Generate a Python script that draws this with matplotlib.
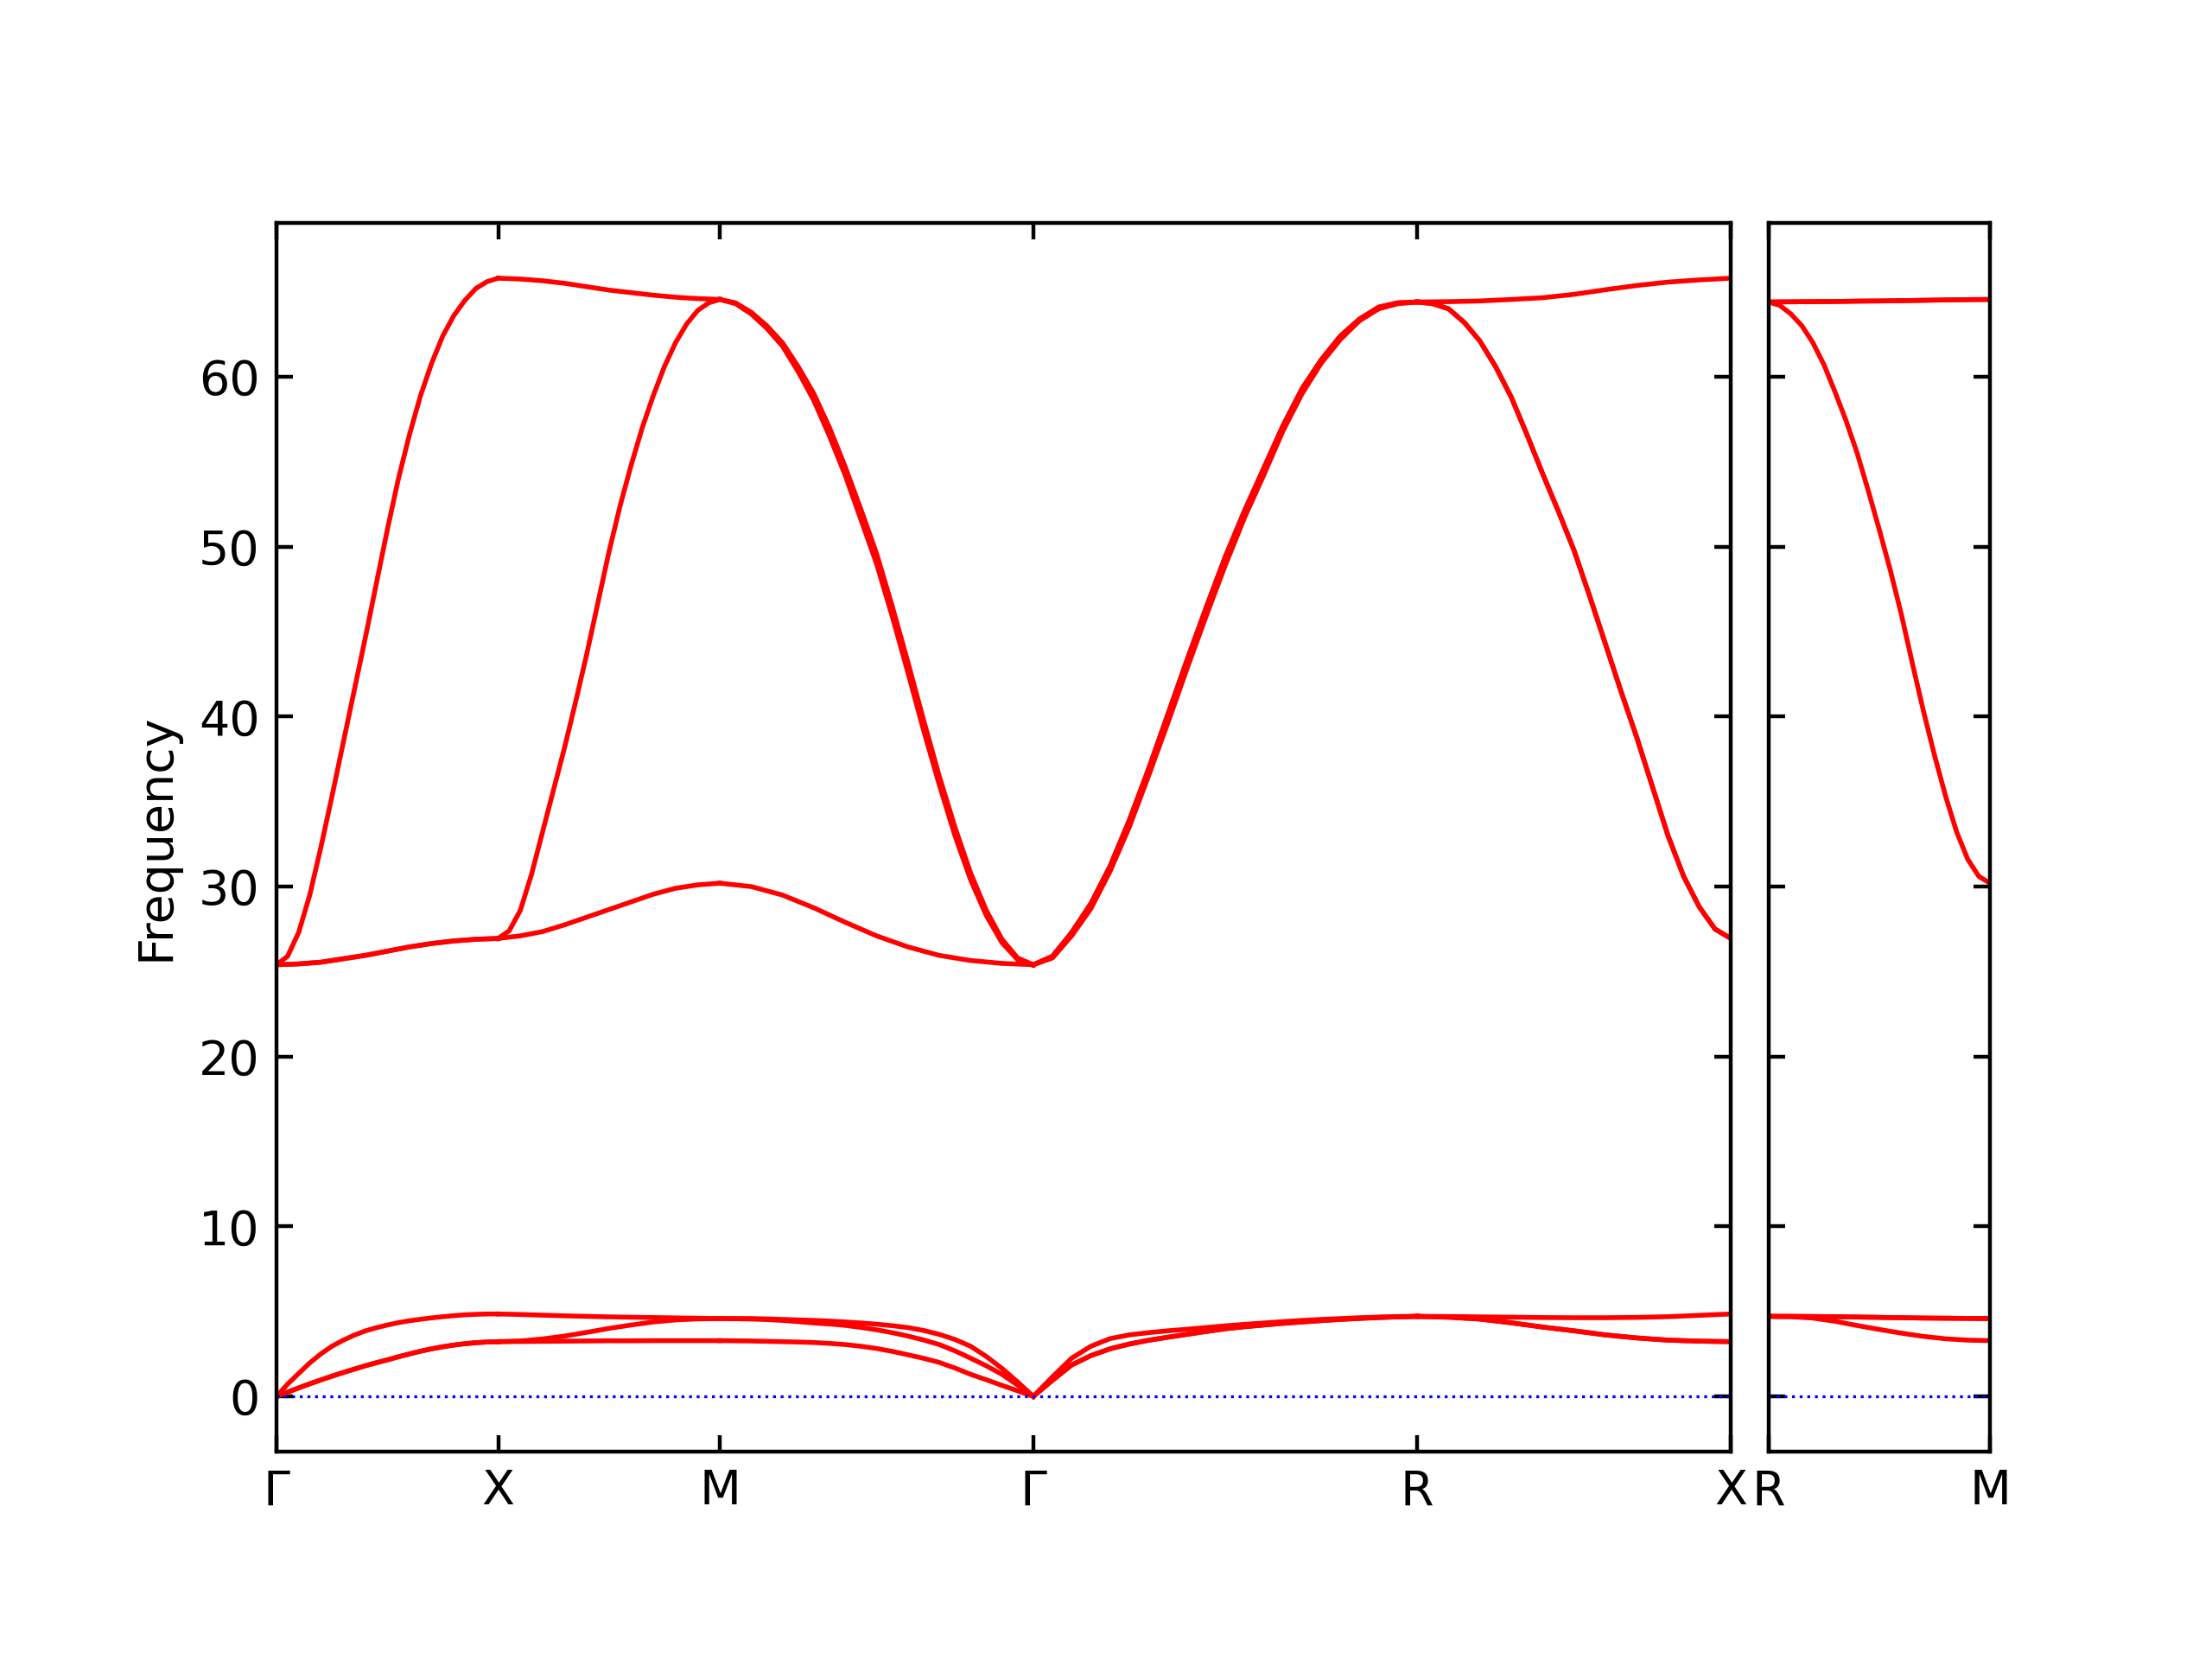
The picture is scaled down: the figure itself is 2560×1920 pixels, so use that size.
import numpy as np
import matplotlib
matplotlib.use("Agg")
import matplotlib.pyplot as plt

# band path (cubic), segment lengths in units of 2pi/a
labels_main = ["Γ", "X", "M", "Γ", "R", "X"]
labels_side = ["R", "M"]
len_main = [0.5, 0.5, 0.7071, 0.8660, 0.7071]
len_side = [0.5]

# frequencies, 6 branches per segment,
# q-points evenly spaced along each segment (11 or 21 of them)
freq_GX = [
    [0, 0.72, 1.35, 1.97, 2.5, 2.95, 3.3, 3.6, 3.85, 4.04, 4.2,
     4.34, 4.45, 4.54, 4.62, 4.69, 4.75, 4.8, 4.83, 4.85, 4.85],
    [0, 0.25, 0.5, 0.74, 0.97, 1.19, 1.4, 1.6, 1.8, 1.98, 2.15,
     2.33, 2.5, 2.66, 2.8, 2.92, 3.02, 3.1, 3.16, 3.2, 3.22],
    [0, 0.25, 0.5, 0.74, 0.97, 1.19, 1.4, 1.6, 1.8, 1.98, 2.15,
     2.33, 2.5, 2.66, 2.8, 2.92, 3.02, 3.1, 3.16, 3.2, 3.22],
    [25.4, 25.45, 25.55, 25.75, 25.95, 26.2, 26.45, 26.65, 26.8, 26.9, 26.95],
    [25.4, 25.45, 25.55, 25.75, 25.95, 26.2, 26.45, 26.65, 26.8, 26.9, 26.95],
    [25.4, 25.9, 27.3, 29.5, 32.3, 35.3, 38.4, 41.5, 44.6, 47.8, 51.0,
     54.0, 56.6, 58.9, 60.8, 62.4, 63.6, 64.5, 65.2, 65.6, 65.8],
]
freq_XM = [
    [3.22, 3.23, 3.24, 3.25, 3.26, 3.27, 3.27, 3.28, 3.28, 3.28, 3.28],
    [3.22, 3.26, 3.38, 3.55, 3.77, 4.0, 4.2, 4.38, 4.5, 4.56, 4.58],
    [4.85, 4.82, 4.78, 4.74, 4.71, 4.68, 4.66, 4.64, 4.62, 4.6, 4.58],
    [26.95, 27.1, 27.35, 27.75, 28.2, 28.65, 29.1, 29.55, 29.9, 30.1, 30.2],
    [26.95, 27.4, 28.6, 30.7, 33.2, 35.7, 38.2, 40.9, 43.7, 46.7, 49.7,
     52.4, 54.8, 57.0, 58.9, 60.6, 62.0, 63.1, 63.9, 64.35, 64.55],
    [65.8, 65.75, 65.65, 65.5, 65.3, 65.1, 64.95, 64.8, 64.68, 64.6, 64.55],
]
freq_MG = [
    [3.28, 3.27, 3.26, 3.24, 3.22, 3.2, 3.17, 3.12, 3.05, 2.95, 2.82,
     2.65, 2.45, 2.24, 2.0, 1.67, 1.3, 0.98, 0.65, 0.33, 0],
    [4.58, 4.57, 4.55, 4.52, 4.47, 4.4, 4.32, 4.26, 4.18, 4.06, 3.92,
     3.75, 3.55, 3.32, 3.05, 2.68, 2.25, 1.8, 1.3, 0.66, 0],
    [4.58, 4.58, 4.58, 4.56, 4.53, 4.5, 4.47, 4.43, 4.38, 4.32, 4.25,
     4.16, 4.05, 3.88, 3.65, 3.35, 2.95, 2.35, 1.65, 0.85, 0],
    [30.2, 30.0, 29.5, 28.75, 27.9, 27.1, 26.45, 25.95, 25.65, 25.48, 25.4],
    [64.55, 64.35, 63.8, 63.0, 62.0, 60.6, 59.0, 57.0, 54.7, 52.2, 49.6,
     46.5, 43.2, 39.8, 36.5, 33.5, 30.8, 28.6, 26.9, 25.8, 25.4],
    [64.55, 64.3, 63.7, 62.85, 61.8, 60.3, 58.6, 56.5, 54.2, 51.6, 49.0,
     45.9, 42.6, 39.2, 36.0, 33.0, 30.4, 28.3, 26.7, 25.7, 25.4],
]
freq_GR = [
    [0, 0.95, 1.85, 2.4, 2.8, 3.08, 3.3, 3.48, 3.65, 3.82, 3.98,
     4.1, 4.2, 4.3, 4.38, 4.46, 4.53, 4.59, 4.64, 4.68, 4.71],
    [0, 0.95, 1.85, 2.4, 2.8, 3.08, 3.3, 3.48, 3.65, 3.82, 3.98,
     4.1, 4.2, 4.3, 4.38, 4.46, 4.53, 4.59, 4.64, 4.68, 4.71],
    [0, 1.15, 2.25, 2.95, 3.4, 3.62, 3.75, 3.86, 3.95, 4.05, 4.15,
     4.24, 4.32, 4.4, 4.47, 4.53, 4.58, 4.63, 4.67, 4.7, 4.71],
    [25.4, 25.9, 27.3, 29.0, 31.2, 33.9, 36.9, 40.1, 43.3, 46.4, 49.4,
     52.1, 54.6, 57.1, 59.3, 61.0, 62.4, 63.4, 64.1, 64.35, 64.4],
    [25.4, 25.8, 27.1, 28.7, 30.9, 33.5, 36.5, 39.6, 42.8, 45.9, 48.9,
     51.7, 54.2, 56.8, 59.0, 60.8, 62.2, 63.3, 64.0, 64.3, 64.4],
    [25.4, 25.9, 27.3, 29.0, 31.2, 33.9, 36.9, 40.1, 43.3, 46.4, 49.4,
     52.1, 54.6, 57.1, 59.3, 61.0, 62.4, 63.4, 64.1, 64.35, 64.4],
]
freq_RX = [
    [4.71, 4.66, 4.55, 4.33, 4.08, 3.86, 3.62, 3.44, 3.31, 3.25, 3.22],
    [4.71, 4.66, 4.55, 4.33, 4.08, 3.86, 3.62, 3.44, 3.31, 3.25, 3.22],
    [4.71, 4.7, 4.68, 4.66, 4.64, 4.63, 4.63, 4.65, 4.69, 4.77, 4.85],
    [64.4, 64.3, 64.0, 63.2, 62.1, 60.6, 58.8, 56.6, 54.3, 52.1, 49.8,
     47.1, 44.3, 41.5, 38.8, 35.9, 33.0, 30.6, 28.8, 27.5, 26.95],
    [64.4, 64.3, 64.0, 63.2, 62.1, 60.6, 58.8, 56.6, 54.3, 52.1, 49.8,
     47.1, 44.3, 41.5, 38.8, 35.9, 33.0, 30.6, 28.8, 27.5, 26.95],
    [64.4, 64.42, 64.46, 64.55, 64.65, 64.85, 65.12, 65.37, 65.57, 65.7, 65.8],
]
freq_RM = [
    [4.71, 4.71, 4.7, 4.69, 4.67, 4.65, 4.63, 4.61, 4.6, 4.59, 4.58],
    [4.71, 4.71, 4.7, 4.69, 4.67, 4.65, 4.63, 4.61, 4.6, 4.59, 4.58],
    [4.71, 4.69, 4.61, 4.42, 4.17, 3.94, 3.72, 3.53, 3.39, 3.31, 3.28],
    [64.4, 64.41, 64.42, 64.43, 64.45, 64.46, 64.48, 64.5, 64.52, 64.54, 64.55],
    [64.4, 64.41, 64.42, 64.43, 64.45, 64.46, 64.48, 64.5, 64.52, 64.54, 64.55],
    [64.4, 64.2, 63.7, 63.0, 62.0, 60.7, 59.1, 57.4, 55.5, 53.3, 51.0,
     48.6, 46.0, 43.1, 40.3, 37.7, 35.3, 33.2, 31.6, 30.6, 30.2],
]

segs_main = [freq_GX, freq_XM, freq_MG, freq_GR, freq_RX]
segs_side = [freq_RM]

fig = plt.figure(figsize=(6.4, 4.8), dpi=400)
ax1 = fig.add_axes([0.125, 0.125, 0.6574, 0.7406])
ax2 = fig.add_axes([0.7996, 0.125, 0.1, 0.7406])


def draw_path(ax, segs, lengths, labels):
    nodes = np.concatenate([[0], np.cumsum(lengths)])
    for k, seg in enumerate(segs):
        for branch in seg:
            x = np.linspace(nodes[k], nodes[k + 1], len(branch))
            ax.plot(x, branch, "r-", linewidth=1)
    ax.axhline(0, color="b", linestyle=":", linewidth=0.6)
    ax.set_xlim(nodes[0], nodes[-1])
    ax.set_ylim(-3.25, 69.05)
    ax.set_xticks(nodes)
    ax.set_xticklabels(labels)
    ax.set_yticks(np.arange(0, 61, 10))
    ax.tick_params(direction="in", top=True, right=True)


draw_path(ax1, segs_main, len_main, labels_main)
draw_path(ax2, segs_side, len_side, labels_side)
ax2.set_yticklabels([])
ax1.set_ylabel("Frequency")

fig.savefig("out.png", dpi=400)
